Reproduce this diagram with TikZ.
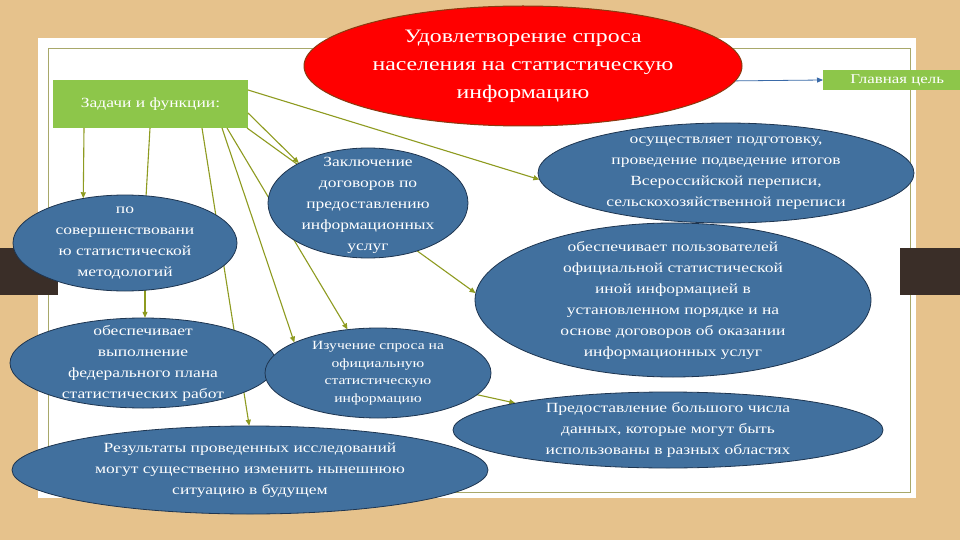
\documentclass[tikz,border=0pt]{standalone}
\usepackage{fontspec}
\setmainfont[FakeStretch=1.25]{Liberation Serif}
\usetikzlibrary{shapes.geometric,arrows.meta}
\definecolor{bg}{HTML}{E6C28C}
\definecolor{tab}{HTML}{3A2E28}
\definecolor{frame}{HTML}{A8A86A}
\definecolor{gbox}{HTML}{8DC64A}
\definecolor{ebl}{HTML}{41709E}
\definecolor{ebd}{HTML}{1E3550}
\definecolor{olive}{HTML}{8E9B20}
\definecolor{redb}{HTML}{8A3A10}
\definecolor{arrb}{HTML}{3A6AA8}
\tikzset{
 oval/.style={ellipse,draw=ebd,line width=0.8pt,fill=ebl,inner sep=0pt},
 ovaltext/.style={text=white,inner sep=0pt,align=center,font=\fontsize{14}{21}\selectfont},
 greenbox/.style={rectangle,fill=gbox,text=white,inner sep=0pt},
 conn/.style={olive,line width=1.1pt},
 arr/.style={conn,-{Triangle[length=6pt,width=5pt]}}
}
\begin{document}
\begin{tikzpicture}[x=1pt,y=-1pt]
\useasboundingbox (0,0) rectangle (960,540);
\fill[bg] (0,0) rectangle (960,540);
\fill[white] (38,38) rectangle (916,498);
\draw[frame,line width=0.8pt] (48,48) rectangle (910,492);
\fill[tab] (0,248) rectangle (58,295);
\fill[tab] (900,248) rectangle (960,295);

\node[greenbox,minimum width=195pt,minimum height=48pt,font=\fontsize{14}{16}\selectfont] (g) at (150.5,104) {\raisebox{-4pt}{Задачи и функции:}};
\node[greenbox,minimum width=140pt,minimum height=20pt,font=\fontsize{13.5}{15}\selectfont,anchor=west] (goal) at (823,80) {\hspace{8pt}Главная цель\hfill};

\coordinate (s1) at (84,128);
\coordinate (s2) at (150,128);
\coordinate (s3) at (202,128);
\coordinate (s4) at (222,128);
\coordinate (s5) at (227,128);
\coordinate (s6) at (247,128);
\coordinate (s7) at (248,113);
\coordinate (s8) at (248,90);
\coordinate (c1) at (145,270);
\coordinate (c5) at (378,373);

\path[draw=none]
 (125,243) node[ellipse,minimum width=224pt,minimum height=96pt] (e1) {}
 (143,363) node[ellipse,minimum width=266pt,minimum height=90pt] (e2) {}
 (250,470) node[ellipse,minimum width=476pt,minimum height=88pt] (e3) {}
 (368,203) node[ellipse,minimum width=200pt,minimum height=110pt] (e4) {}
 (378,373) node[ellipse,minimum width=226pt,minimum height=90pt] (e5) {}
 (726,173) node[ellipse,minimum width=376pt,minimum height=100pt] (e6) {}
 (673,300) node[ellipse,minimum width=396pt,minimum height=154pt] (e7) {}
 (668,430) node[ellipse,minimum width=430pt,minimum height=76pt] (e8) {};

\draw[arr] (s1) -- (e1.133);
\draw[conn] (s2) -- (e1.66);
\draw[arr] (c1) -- (c1 |- e2.north);
\draw[arr] (s3) -- (e3.91);
\draw[arr] (s4) -- (e5.160);
\draw[arr] (s5) -- (e5.125);
\draw[arr] (s7) -- (e4.150);
\draw[arr] (s6) -- (e7.178);
\draw[arr] (s8) -- (e6.182);
\draw[arr] (c5) -- (e8.170);

\node[oval,minimum width=224pt,minimum height=96pt] (o1) at (e1) {};
\node[ovaltext] (t1) at (e1) {по\\совершенствовани\\ю статистической\\методологий};
\node[oval,minimum width=266pt,minimum height=90pt] (o2) at (e2) {};
\node[ovaltext] (t2) at (e2) {обеспечивает\\выполнение\\федерального плана\\статистических работ};
\node[oval,minimum width=476pt,minimum height=88pt] (o3) at (e3) {};
\node[ovaltext] (t3) at (e3) {Результаты проведенных исследований\\могут существенно изменить нынешнюю\\ситуацию в будущем};
\node[oval,minimum width=200pt,minimum height=110pt] (o4) at (e4) {};
\node[ovaltext,yshift=-2pt] (t4) at (e4) {Заключение\\договоров по\\предоставлению\\информационных\\услуг};
\node[oval,minimum width=226pt,minimum height=90pt] (o5) at (e5) {};
\node[ovaltext,font=\fontsize{12.5}{17.5}\selectfont] (t5) at (e5) {Изучение спроса на\\официальную\\статистическую\\информацию};
\node[oval,minimum width=376pt,minimum height=100pt] (o6) at (e6) {};
\node[ovaltext] (t6) at (e6) {осуществляет подготовку,\\проведение подведение итогов\\Всероссийской переписи,\\сельскохозяйственной переписи};
\node[oval,minimum width=396pt,minimum height=154pt] (o7) at (e7) {};
\node[ovaltext] (t7) at (e7) {обеспечивает пользователей\\официальной статистической\\иной информацией в\\установленном порядке и на\\основе договоров об оказании\\информационных услуг};
\node[oval,minimum width=430pt,minimum height=76pt] (o8) at (e8) {};
\node[ovaltext] (t8) at (e8) {Предоставление большого числа\\данных, которые могут быть\\использованы в разных областях};

\node[ellipse,draw=redb,line width=1pt,fill=red,minimum width=438pt,minimum height=120pt,inner sep=0pt] (red) at (523,66) {};
\node[text=white,align=center,inner sep=0pt,font=\fontsize{19}{28}\selectfont] (redt) at (red) {Удовлетворение спроса\\населения на статистическую\\информацию};
\draw[arrb,line width=0.8pt,-{Triangle[length=6pt,width=5pt]}] (red.-4) -- (goal.west);
\end{tikzpicture}
\end{document}
